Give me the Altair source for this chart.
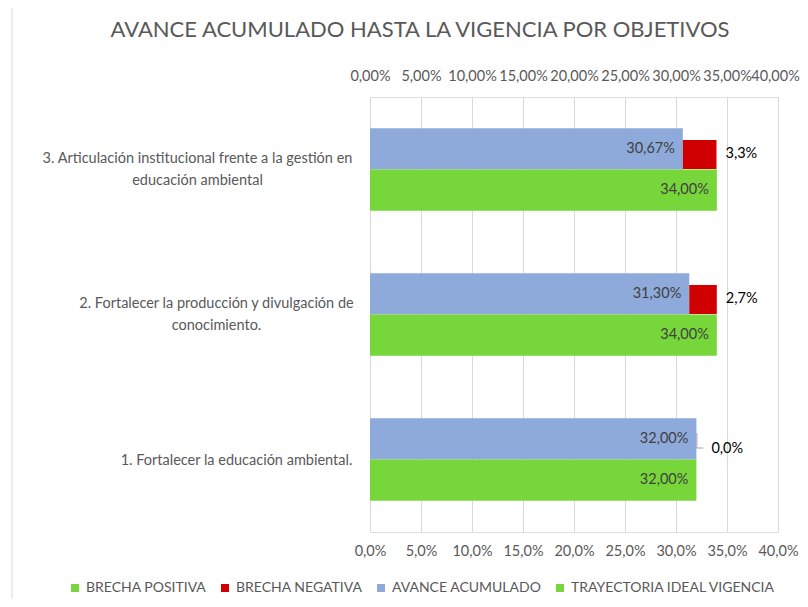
import altair as alt
import pandas as pd

categories = [
    "3. Articulación institucional frente a la gestión en\neducación ambiental",
    "2. Fortalecer la producción y divulgación de\nconocimiento.",
    "1. Fortalecer la educación ambiental.",
]
avance = [0.3067, 0.3130, 0.3200]
trayectoria = [0.34, 0.34, 0.32]
brecha_negativa = [0.033, 0.027, 0.0]

series_names = ["BRECHA POSITIVA", "BRECHA NEGATIVA", "AVANCE ACUMULADO", "TRAYECTORIA IDEAL VIGENCIA"]
series_colors = ["#77d63a", "#d00000", "#8eaadb", "#77d63a"]
bar_series = ["AVANCE ACUMULADO", "TRAYECTORIA IDEAL VIGENCIA"]
x_ticks = [0.0, 0.05, 0.10, 0.15, 0.20, 0.25, 0.30, 0.35, 0.40]

TXT = "#595959"
FONT = "Lato"

bars_df = pd.DataFrame({
    "cat": categories * 2,
    "serie": [bar_series[0]] * 3 + [bar_series[1]] * 3,
    "valor": avance + trayectoria,
})
gap_df = pd.DataFrame({
    "cat": categories,
    "serie": ["BRECHA NEGATIVA"] * 3,
    "inicio": avance,
    "brecha": brecha_negativa,
})

label_pad = {categories[0]: 173, categories[1]: 154, categories[2]: 134}
pad_cond = [
    {"test": f"datum.value == {repr(c)}".replace("\n", "\\n"), "value": p}
    for c, p in label_pad.items()
]

y_axis = alt.Axis(
    domain=False, ticks=False, grid=False,
    labelExpr="split(datum.label, '\\n')",
    labelAlign="center",
    labelPadding={"condition": pad_cond, "value": 18},
    labelOffset={"condition": {"test": "indexof(datum.value, '\\n') >= 0", "value": -11}, "value": 1},
    labelFont=FONT, labelFontSize=14.5, labelColor=TXT,
    labelLineHeight=22, labelLimit=0,
)
y_scale = alt.Scale(paddingInner=0.43, paddingOuter=0.215)
y_main = alt.Y("cat:N", sort=categories, title=None, scale=y_scale, axis=y_axis)

yoff = alt.YOffset("sub:N", scale=alt.Scale(domain=bar_series, paddingInner=0, paddingOuter=0))
color_enc = alt.Color(
    "serie:N",
    scale=alt.Scale(domain=series_names, range=series_colors),
    legend=alt.Legend(
        title=None, orient="none", direction="horizontal",
        legendX=-302, legendY=484, symbolType="square", symbolSize=64,
        symbolStrokeWidth=0, labelFont=FONT, labelFontSize=14, labelColor=TXT,
        columnPadding=11, labelOffset=4, labelLimit=0, gridAlign="none",
    ),
)

x_scale = alt.Scale(domain=[0, 0.4], nice=False, zero=True)


def x_plain(field):
    return alt.X(field, scale=x_scale, title=None, axis=None)


bars = alt.Chart(bars_df).transform_calculate(sub="datum.serie").mark_bar().encode(
    x=alt.X("valor:Q", scale=x_scale, title=None,
            axis=alt.Axis(orient="bottom", values=x_ticks, domain=False, ticks=False, grid=False,
                          labelExpr="replace(format(datum.value, '.1%'), '.', ',')",
                          labelFont=FONT, labelFontSize=14.5, labelColor=TXT,
                          labelPadding=12, labelOverlap=False, labelFlush=False)),
    y=y_main, yOffset=yoff, color=color_enc,
)

bar_text = alt.Chart(bars_df).transform_calculate(
    sub="datum.serie",
    lbl="replace(format(datum.valor, '.2%'), '.', ',')",
).mark_text(align="right", baseline="middle", dx=-8, font=FONT, fontSize=14.5, color="#404040").encode(
    x=alt.X("valor:Q", scale=x_scale, title=None,
            axis=alt.Axis(orient="top", values=x_ticks, domain=False, ticks=False, grid=True,
                          gridColor="#d9d9d9", gridWidth=1,
                          labelExpr="replace(format(datum.value, '.2%'), '.', ',')",
                          labelFont=FONT, labelFontSize=14.5, labelColor=TXT,
                          labelOffset={"condition": {"test": "datum.value >= 0.4", "value": -3}, "value": 0},
                          labelPadding=14, labelOverlap=False, labelFlush=False)),
    y=y_main, yOffset=yoff, text="lbl:N",
)

gap_base = alt.Chart(gap_df).transform_calculate(
    fin="datum.inicio + datum.brecha",
    lbl="replace(format(datum.brecha, '.1%'), '.', ',')",
)

gap_bars = gap_base.transform_filter("datum.brecha > 0").mark_bar(height=29, yOffset=-15).encode(
    x=x_plain("inicio:Q"), x2="fin:Q", y=y_main, color=color_enc,
)

gap_text = gap_base.transform_filter("datum.brecha > 0").mark_text(
    align="left", baseline="middle", dx=9, yOffset=-16, font=FONT, fontSize=14.5, color="#000000"
).encode(x=x_plain("fin:Q"), y=y_main, text="lbl:N")

zero_text = gap_base.transform_filter("datum.brecha == 0").mark_text(
    align="left", baseline="middle", dx=15, yOffset=-11, font=FONT, fontSize=14.5, color="#000000"
).encode(x=x_plain("fin:Q"), y=y_main, text="lbl:N")

leader_v = gap_base.transform_filter("datum.brecha == 0").mark_bar(
    height=15, yOffset=-19, x2Offset=1, color="#a6a6a6"
).encode(x=x_plain("fin:Q"), x2="fin:Q", y=y_main)

leader_h = gap_base.transform_filter("datum.brecha == 0").mark_rule(
    yOffset=-11.5, x2Offset=7, color="#a6a6a6", strokeWidth=1
).encode(x=x_plain("fin:Q"), x2="fin:Q", y=y_main)

frame_df = pd.DataFrame({"a": [0]})
frame_left = alt.Chart(frame_df).mark_rule(color="#d9d9d9", strokeWidth=1).encode(
    x=alt.value(-358), y=alt.value(-92), y2=alt.value(502))
frame_top = alt.Chart(frame_df).mark_rule(color="#d9d9d9", strokeWidth=1).encode(
    x=alt.value(-358), x2=alt.value(430), y=alt.value(-92))

chart = alt.layer(
    frame_left, frame_top, bars, bar_text, gap_bars, gap_text, zero_text, leader_v, leader_h
).resolve_axis(x="independent").properties(
    width=408, height=435,
    autosize=alt.AutoSizeParams(type="none"),
    padding={"left": 362, "top": 89, "right": 22, "bottom": 67},
    title=alt.TitleParams(
        "AVANCE ACUMULADO HASTA LA VIGENCIA POR OBJETIVOS",
        font=FONT, fontSize=22, fontWeight="normal", color=TXT,
        anchor="middle", dx=-154, offset=10, dy=47,
    ),
).configure_view(stroke=None).configure(font=FONT)

chart.save("out.html", embed_options={"renderer": "svg", "actions": False})
